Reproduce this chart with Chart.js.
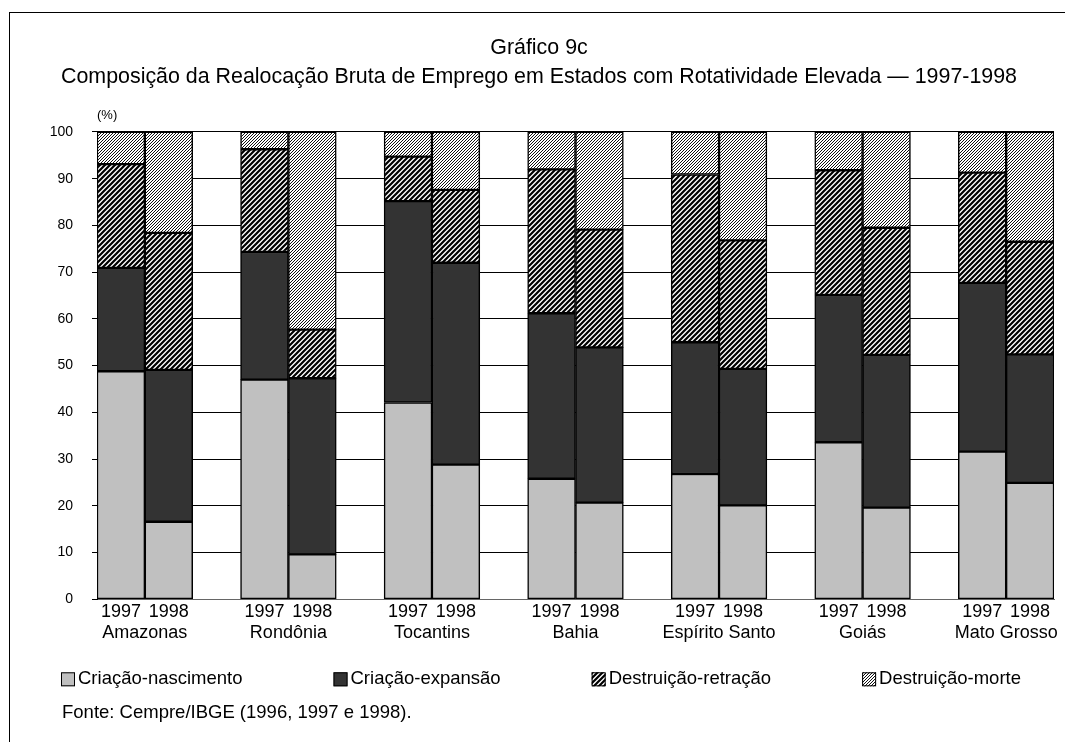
<!DOCTYPE html>
<html lang="pt">
<head>
<meta charset="utf-8">
<title>Gráfico 9c</title>
<script src="https://cdn.jsdelivr.net/npm/chart.js@4.4.1/dist/chart.umd.min.js"></script>
<style>
  html, body { margin: 0; padding: 0; background: #fff; }
  #wrap { position: relative; width: 1065px; height: 742px; overflow: hidden; }
  #frame { position: absolute; left: 9px; top: 12px; width: 1100px; height: 800px;
           border-top: 1px solid #000; border-left: 1px solid #000; pointer-events: none; }
</style>
</head>
<body>
<div id="wrap">
  <canvas id="chart" width="1065" height="742"></canvas>
  <div id="frame"></div>
</div>
<script>
var years = ['1997', '1998'];
var states = ['Amazonas', 'Rondônia', 'Tocantins', 'Bahia', 'Espírito Santo', 'Goiás', 'Mato Grosso'];
var seriesNames = ['Criação-nascimento', 'Criação-expansão', 'Destruição-retração', 'Destruição-morte'];

// one value per bar, state by state: 1997 then 1998 (%)
var nascimento = [48.8, 16.6, 47.0, 9.6, 42.1, 28.8, 25.8, 20.7, 26.8, 20.1, 33.6, 19.6, 31.6, 24.9];
var expansao   = [22.1, 32.5, 27.3, 37.7, 43.1, 43.2, 35.4, 33.2, 28.2, 29.2, 31.5, 32.7, 36.1, 27.5];
var retracao   = [22.2, 29.3, 22.0, 10.4, 9.5, 15.6, 30.8, 25.2, 35.9, 27.5, 26.7, 27.2, 23.6, 24.1];
var morte      = [6.9, 21.6, 3.7, 42.3, 5.3, 12.4, 8.0, 20.9, 9.1, 23.2, 8.2, 20.5, 8.7, 23.5];

var yMax = 100;
var yStep = 10;
var unitLabel = '(%)';
var titleLines = ['Gráfico 9c', 'Composição da Realocação Bruta de Emprego em Estados com Rotatividade Elevada — 1997-1998'];
var sourceText = 'Fonte: Cempre/IBGE (1996, 1997 e 1998).';

var FONT = '"Liberation Sans", Arial, sans-serif';
Chart.defaults.font.family = FONT;
Chart.defaults.color = '#000';

// an empty slot between states
var labels = [];
states.forEach(function(s, i) {
  labels.push(years[0], years[1]);
  if (i < states.length - 1) labels.push('');
});
function spread(values) {
  var out = [];
  states.forEach(function(s, i) {
    out.push(values[i * 2], values[i * 2 + 1]);
    if (i < states.length - 1) out.push(null);
  });
  return out;
}

var canvas = document.getElementById('chart');
var ctx = canvas.getContext('2d');

function stripes(size, lineW) {
  var c = document.createElement('canvas');
  c.width = c.height = size;
  var g = c.getContext('2d');
  g.fillStyle = '#fff';
  g.fillRect(0, 0, size, size);
  g.strokeStyle = '#000';
  g.lineWidth = lineW;
  g.beginPath();
  g.moveTo(-1, size + 1); g.lineTo(size + 1, -1);
  g.moveTo(-1, 1); g.lineTo(1, -1);
  g.moveTo(size - 1, size + 1); g.lineTo(size + 1, size - 1);
  g.stroke();
  return ctx.createPattern(c, 'repeat');
}

// fine pixel diagonal for Destruição-morte
function fineHatch() {
  var c = document.createElement('canvas');
  c.width = c.height = 3;
  var g = c.getContext('2d');
  g.fillStyle = '#fff';
  g.fillRect(0, 0, 3, 3);
  g.fillStyle = '#111';
  for (var i = 0; i < 3; i++) g.fillRect(i, 2 - i, 1, 1);
  return ctx.createPattern(c, 'repeat');
}

var fills = ['#c0c0c0', '#333333', stripes(5, 2.2), fineHatch()];
var values = [nascimento, expansao, retracao, morte];

var extraText = {
  id: 'extraText',
  afterDraw: function(chart) {
    var c = chart.ctx, x = chart.scales.x, area = chart.chartArea;
    c.save();
    c.fillStyle = '#000';
    c.textBaseline = 'middle';
    c.textAlign = 'left';
    c.font = '13px ' + FONT;
    c.fillText(unitLabel, area.left, area.top - 17);

    c.font = '18px ' + FONT;
    c.textAlign = 'center';
    states.forEach(function(s, i) {
      var cx = (x.getPixelForValue(i * 3) + x.getPixelForValue(i * 3 + 1)) / 2;
      c.fillText(s, cx, x.top + 34);
    });

    // legend
    c.font = '18.5px ' + FONT;
    var lx = 61, ly = area.bottom + 80;
    c.textAlign = 'left';
    c.lineWidth = 1;
    c.strokeStyle = '#000';
    chart.data.datasets.forEach(function(ds) {
      c.fillStyle = ds.backgroundColor;
      c.fillRect(lx, ly - 7, 14, 14);
      c.strokeRect(lx + 0.5, ly - 6.5, 13, 13);
      c.fillStyle = '#000';
      c.fillText(ds.label, lx + 17, ly);
      lx += 17 + c.measureText(ds.label).width + 91;
    });

    c.fillText(sourceText, 62, area.bottom + 114);
    c.restore();
  }
};

new Chart(canvas, {
  type: 'bar',
  data: {
    labels: labels,
    datasets: seriesNames.map(function(name, k) {
      return {
        label: name,
        data: spread(values[k]),
        backgroundColor: fills[k],
        borderColor: '#000',
        borderWidth: 1.5,
        borderSkipped: false,
        barPercentage: 1,
        categoryPercentage: 1
      };
    })
  },
  options: {
    responsive: false,
    devicePixelRatio: 1,
    animation: false,
    layout: { padding: { left: 24, right: 11, top: 0, bottom: 92.7 } },
    plugins: {
      legend: { display: false },
      tooltip: { enabled: false },
      title: {
        display: true,
        text: titleLines,
        color: '#000',
        font: { size: 21.4, weight: 'normal', lineHeight: 1.33 },
        padding: { top: 34, bottom: 41 }
      }
    },
    scales: {
      x: {
        stacked: true,
        grid: { display: false, drawTicks: false },
        border: { display: true, color: '#666' },
        ticks: { color: '#000', font: { size: 18 }, padding: 2, autoSkip: false, maxRotation: 0 },
        afterFit: function(s) { s.height = 50; }
      },
      y: {
        stacked: true,
        min: 0,
        max: yMax,
        ticks: { stepSize: yStep, color: '#000', font: { size: 14 }, padding: 19 },
        grid: { color: '#000', tickLength: 5 },
        border: { color: '#000' },
        afterFit: function(s) { s.width = 73; }
      }
    }
  },
  plugins: [extraText]
});
</script>
</body>
</html>
